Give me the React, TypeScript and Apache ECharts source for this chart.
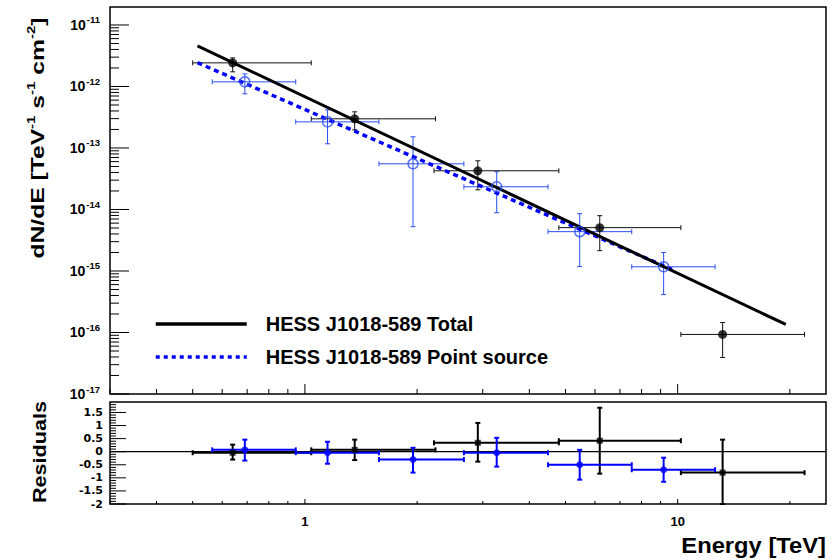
import React, { useEffect, useRef } from "react";
import * as echarts from "echarts";

// axis ranges
const X_MIN = 0.3;
const X_MAX = 25;
const Y_MIN = 1e-17;
const Y_MAX = 1.96e-11;
const R_MIN = -2;
const R_MAX = 1.9;

// HESS J1018-589 Total (black)
const totE = [0.64, 1.36, 2.91, 6.18, 13.2];
const totElo = [0.5, 1.04, 2.22, 4.8, 10.2];
const totEhi = [1.04, 2.24, 4.8, 10.2, 21.9];
const totF = [2.42e-12, 2.98e-13, 4.26e-14, 5.07e-15, 9.3e-17];
const totFlo = [1.73e-12, 1.97e-13, 2.09e-14, 2.14e-15, 3.93e-17];
const totFhi = [2.91e-12, 3.87e-13, 6.19e-14, 7.93e-15, 1.45e-16];
const totRes = [-0.04, 0.07, 0.34, 0.42, -0.8];
const totResLo = [-0.3, -0.32, -0.38, -0.84, -2.0];
const totResHi = [0.27, 0.46, 1.1, 1.68, 0.46];

// HESS J1018-589 Point source (blue)
const ptE = [0.69, 1.15, 1.95, 3.27, 5.46, 9.17];
const ptElo = [0.564, 0.945, 1.58, 2.67, 4.49, 7.53];
const ptEhi = [0.945, 1.58, 2.67, 4.49, 7.53, 12.6];
const ptF = [1.19e-12, 2.66e-13, 5.53e-14, 2.34e-14, 4.36e-15, 1.17e-15];
const ptFlo = [7.59e-13, 1.17e-13, 5.25e-15, 8.87e-15, 1.18e-15, 4.14e-16];
const ptFhi = [1.6e-12, 4.17e-13, 1.52e-13, 4.11e-14, 8.55e-15, 2.0e-15];
const ptRes = [0.07, -0.04, -0.3, -0.04, -0.5, -0.69];
const ptResLo = [-0.34, -0.46, -0.8, -0.57, -1.07, -1.15];
const ptResHi = [0.46, 0.38, 0.15, 0.53, 0.07, -0.23];

// fitted spectra (power laws, end points)
const totLineE = [0.515, 19.5];
const totLineF = [4.56e-12, 1.35e-16];
const ptLineE = [0.515, 9.65];
const ptLineF = [2.44e-12, 1.06e-15];

// tick marks
const xMajorTicks = [1, 10];
const xMinorTicks = [0.3, 0.4, 0.5, 0.6, 0.7, 0.8, 0.9, 2, 3, 4, 5, 6, 7, 8, 9, 20];
const yDecades = [1e-17, 1e-16, 1e-15, 1e-14, 1e-13, 1e-12, 1e-11];
const yMinorMult = [2, 3, 4, 5, 6, 7, 8, 9];
const rMajorTicks = [-2, -1.5, -1, -0.5, 0, 0.5, 1, 1.5];
const rMinorStep = 0.1;

const TOTAL = "HESS J1018-589 Total";
const POINT = "HESS J1018-589 Point source";
const FONT = "Liberation Sans";
const BLUE_ERR = "#2a4ff0";
const BLUE = "#0000ff";

function buildTopTicks() {
  const d: number[][] = [];
  xMajorTicks.forEach((v) => d.push([v, Y_MIN, 0]));
  xMinorTicks.forEach((v) => d.push([v, Y_MIN, 1]));
  yDecades.forEach((dec) => {
    d.push([X_MIN, dec, 2]);
    yMinorMult.forEach((m) => {
      const v = dec * m;
      if (v < Y_MAX) d.push([X_MIN, v, 3]);
    });
  });
  return d;
}

function buildResTicks() {
  const d: number[][] = [];
  xMajorTicks.forEach((v) => d.push([v, R_MIN, 0]));
  xMinorTicks.forEach((v) => d.push([v, R_MIN, 1]));
  rMajorTicks.forEach((v) => d.push([X_MIN, v, 2]));
  for (let i = 0; R_MIN + i * rMinorStep < R_MAX - 1e-9; i++) {
    const v = Math.round((R_MIN + i * rMinorStep) * 10) / 10;
    if (!rMajorTicks.includes(v)) d.push([X_MIN, v, 3]);
  }
  return d;
}

const tickRender = (lens: number[]) => (params: any, api: any) => {
  const p = api.coord([api.value(0), api.value(1)]);
  const k = api.value(2);
  const len = lens[k];
  const shape =
    k < 2
      ? { x1: p[0], y1: p[1], x2: p[0], y2: p[1] - len }
      : { x1: p[0], y1: p[1], x2: p[0] + len, y2: p[1] };
  return { type: "line", shape, style: { stroke: "#000", lineWidth: 1 } };
};

const errRender = (color: string, lw: number, cap: number) => (params: any, api: any) => {
  const x = api.value(0);
  const y = api.value(1);
  const l = api.coord([api.value(2), y]);
  const r = api.coord([api.value(3), y]);
  const b = api.coord([x, api.value(4)]);
  const t = api.coord([x, api.value(5)]);
  const style = { stroke: color, lineWidth: lw, fill: null };
  const ln = (x1: number, y1: number, x2: number, y2: number) => ({
    type: "line",
    shape: { x1, y1, x2, y2 },
    style,
  });
  return {
    type: "group",
    children: [
      ln(l[0], l[1], r[0], r[1]),
      ln(l[0], l[1] - cap, l[0], l[1] + cap),
      ln(r[0], r[1] - cap, r[0], r[1] + cap),
      ln(b[0], b[1], t[0], t[1]),
      ln(b[0] - cap, b[1], b[0] + cap, b[1]),
      ln(t[0] - cap, t[1], t[0] + cap, t[1]),
    ],
  };
};

const isDecade = (v: number) => {
  const e = Math.log10(v);
  return Math.abs(e - Math.round(e)) < 1e-6;
};

export default function App() {
  const ref = useRef<HTMLDivElement>(null);

  useEffect(() => {
    if (!ref.current) return;
    const chart = echarts.init(ref.current, undefined, { renderer: "svg" });

    const topErrTot = totE.map((e, i) => [e, totF[i], totElo[i], totEhi[i], totFlo[i], totFhi[i]]);
    const topErrPt = ptE.map((e, i) => [e, ptF[i], ptElo[i], ptEhi[i], ptFlo[i], ptFhi[i]]);
    const resErrTot = totE.map((e, i) => [e, totRes[i], totElo[i], totEhi[i], totResLo[i], totResHi[i]]);
    const resErrPt = ptE.map((e, i) => [e, ptRes[i], ptElo[i], ptEhi[i], ptResLo[i], ptResHi[i]]);

    const option: any = {
      animation: false,
      backgroundColor: "#fff",
      textStyle: { fontFamily: FONT },
      grid: [
        { left: 110, top: 7, width: 716, height: 387, show: true, borderColor: "#000", borderWidth: 1.5, backgroundColor: "transparent" },
        { left: 110, top: 402, width: 716, height: 102, show: true, borderColor: "#000", borderWidth: 1.5, backgroundColor: "transparent" },
      ],
      xAxis: [
        {
          type: "log", logBase: 10, gridIndex: 0, min: X_MIN, max: X_MAX,
          axisLine: { show: false }, axisTick: { show: false }, splitLine: { show: false },
          axisLabel: { show: false },
        },
        {
          type: "log", logBase: 10, gridIndex: 1, min: X_MIN, max: X_MAX,
          axisLine: { show: false }, axisTick: { show: false }, splitLine: { show: false },
          axisLabel: {
            show: true, margin: 11, fontFamily: FONT, fontWeight: "bold", fontSize: 13, color: "#000",
            formatter: (v: number) => (isDecade(v) && v >= 1 ? String(Math.round(v)) : ""),
          },
        },
      ],
      yAxis: [
        {
          type: "log", logBase: 10, gridIndex: 0, min: Y_MIN, max: Y_MAX,
          axisLine: { show: false }, axisTick: { show: false }, splitLine: { show: false },
          axisLabel: {
            show: true, margin: 10, color: "#000",
            formatter: (v: number) => (isDecade(v) ? `{b|10}{s|${Math.round(Math.log10(v))}}` : ""),
            rich: {
              b: { fontFamily: FONT, fontWeight: "bold", fontSize: 14, lineHeight: 20, color: "#000" },
              s: { fontFamily: FONT, fontWeight: "bold", fontSize: 9.5, verticalAlign: "top", lineHeight: 20, color: "#000", padding: [0, 0, 0, 1] },
            },
          },
        },
        {
          type: "value", gridIndex: 1, min: R_MIN, max: R_MAX, interval: 0.5,
          axisLine: { show: false }, axisTick: { show: false }, splitLine: { show: false },
          axisLabel: {
            show: true, margin: 7, fontFamily: "DejaVu Sans", fontWeight: "bold", fontSize: 11, lineHeight: 11, color: "#000",
            formatter: (v: number) => (rMajorTicks.includes(Math.round(v * 10) / 10) ? String(Math.round(v * 10) / 10) : ""),
          },
        },
      ],
      legend: {
        left: 154, top: 314, padding: 0, orient: "vertical", itemWidth: 91, itemHeight: 14, itemGap: 13,
        data: [
          { name: TOTAL, lineStyle: { width: 3.5 } },
          { name: POINT, lineStyle: { width: 3.5, type: [4, 4] } },
        ],
        itemStyle: { opacity: 0 },
        textStyle: { fontFamily: FONT, fontWeight: "bold", fontSize: 20, color: "#000", lineHeight: 20, padding: [0, 0, 0, 14] },
      },
      series: [
        { type: "custom", xAxisIndex: 0, yAxisIndex: 0, renderItem: tickRender([10, 5, 19, 9]), data: buildTopTicks(), silent: true, z: 1 },
        { type: "custom", xAxisIndex: 1, yAxisIndex: 1, renderItem: tickRender([5, 3, 16, 6]), data: buildResTicks(), silent: true, z: 1 },
        { type: "custom", xAxisIndex: 0, yAxisIndex: 0, renderItem: errRender(BLUE_ERR, 1, 2.5), data: topErrPt, silent: true, z: 2 },
        { type: "custom", xAxisIndex: 0, yAxisIndex: 0, renderItem: errRender("#111", 1, 2.5), data: topErrTot, silent: true, z: 2 },
        {
          name: POINT, type: "line", xAxisIndex: 0, yAxisIndex: 0, symbol: "none",
          data: ptLineE.map((e, i) => [e, ptLineF[i]]),
          lineStyle: { color: BLUE, width: 3.5, type: [5, 4] }, itemStyle: { color: BLUE }, z: 3,
        },
        {
          name: TOTAL, type: "line", xAxisIndex: 0, yAxisIndex: 0, symbol: "none",
          data: totLineE.map((e, i) => [e, totLineF[i]]),
          lineStyle: { color: "#000", width: 3 }, itemStyle: { color: "#000" }, z: 3,
        },
        {
          type: "scatter", xAxisIndex: 0, yAxisIndex: 0, symbol: "circle", symbolSize: 10,
          data: ptE.map((e, i) => [e, ptF[i]]),
          itemStyle: { color: "rgba(0,0,0,0)", borderColor: BLUE_ERR, borderWidth: 1.5 }, z: 4,
        },
        {
          type: "scatter", xAxisIndex: 0, yAxisIndex: 0, symbol: "circle", symbolSize: 9,
          data: totE.map((e, i) => [e, totF[i]]),
          itemStyle: { color: "#000" }, z: 4,
        },
        {
          type: "line", xAxisIndex: 1, yAxisIndex: 1, symbol: "none",
          data: [[X_MIN, 0], [X_MAX, 0]],
          lineStyle: { color: "#000", width: 1.2 }, z: 1,
        },
        { type: "custom", xAxisIndex: 1, yAxisIndex: 1, renderItem: errRender("#000", 2, 2.5), data: resErrTot, silent: true, z: 2 },
        { type: "custom", xAxisIndex: 1, yAxisIndex: 1, renderItem: errRender(BLUE, 2, 2.5), data: resErrPt, silent: true, z: 2 },
        {
          type: "scatter", xAxisIndex: 1, yAxisIndex: 1, symbol: "rect", symbolSize: 6,
          data: totE.map((e, i) => [e, totRes[i]]), itemStyle: { color: "#000" }, z: 4,
        },
        {
          type: "scatter", xAxisIndex: 1, yAxisIndex: 1, symbol: "circle", symbolSize: 7,
          data: ptE.map((e, i) => [e, ptRes[i]]), itemStyle: { color: BLUE }, z: 4,
        },
      ],
      graphic: [
        {
          type: "text", x: 38, y: 138, rotation: Math.PI / 2, scaleX: 1.37,
          style: {
            text: "{m|dN/dE [TeV}{s|-1}{m| s}{s|-1}{m| cm}{s|-2}{m|]}",
            align: "center", verticalAlign: "middle",
            rich: {
              m: { fontFamily: FONT, fontWeight: "bold", fontSize: 18, lineHeight: 24, fill: "#000" },
              s: { fontFamily: FONT, fontWeight: "bold", fontSize: 11, lineHeight: 24, verticalAlign: "top", fill: "#000" },
            },
          },
        },
        {
          type: "text", x: 40, y: 452, rotation: Math.PI / 2, scaleX: 1.2,
          style: { text: "Residuals", font: `bold 18px "${FONT}"`, fill: "#000", align: "center", verticalAlign: "middle" },
        },
        {
          type: "text", x: 826, y: 545, scaleX: 1.08,
          style: { text: "Energy [TeV]", font: `bold 22px "${FONT}"`, fill: "#000", align: "right", verticalAlign: "middle" },
        },
      ],
    };

    chart.setOption(option);
    return () => chart.dispose();
  }, []);

  return (
    <div
      ref={ref}
      style={{ position: "absolute", left: 0, top: 0, width: 836, height: 560, background: "#fff" }}
    />
  );
}
